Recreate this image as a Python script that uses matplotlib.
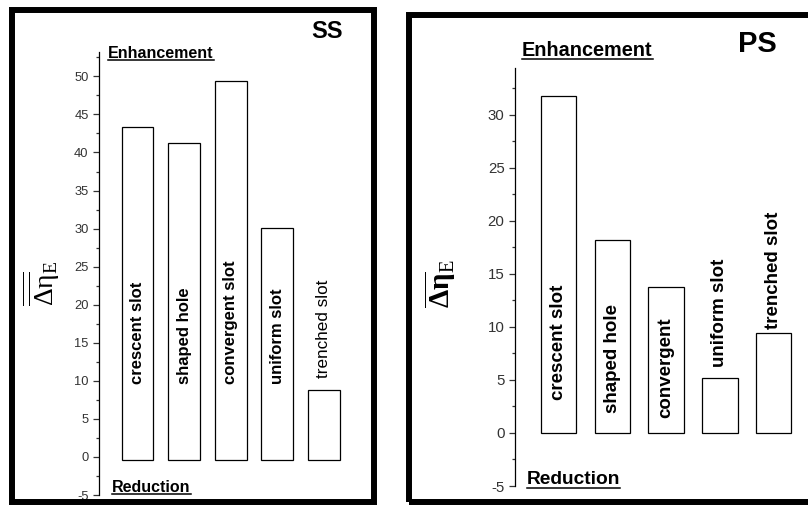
import matplotlib
matplotlib.use('Agg')
import matplotlib.pyplot as plt
from matplotlib.lines import Line2D
from matplotlib.patches import Rectangle
from matplotlib.ticker import MultipleLocator

plt.rcParams['font.family'] = ['Liberation Sans', 'DejaVu Sans']
plt.rcParams['axes.unicode_minus'] = False
plt.rcParams['mathtext.fontset'] = 'custom'
plt.rcParams['mathtext.rm'] = 'Liberation Serif'
plt.rcParams['mathtext.it'] = 'Liberation Serif'
plt.rcParams['mathtext.bf'] = 'Liberation Serif:bold'

# data
ss_labels = ['crescent slot', 'shaped hole', 'convergent slot', 'uniform slot', 'trenched slot']
ss_values = [43.4, 41.3, 49.4, 30.1, 8.8]
ps_labels = ['crescent slot', 'shaped hole', 'convergent', 'uniform slot', 'trenched slot']
ps_values = [31.8, 18.2, 13.8, 5.2, 9.4]

W, H = 808, 505


def fx(x):
    return x / W


def fy(y):
    return 1 - y / H


def make_axes(fig, left, right, top, bottom):
    ax = fig.add_axes([fx(left), fy(bottom), fx(right - left), fy(top) - fy(bottom)])
    for s in ['top', 'right', 'bottom']:
        ax.spines[s].set_visible(False)
    ax.spines['left'].set_linewidth(0.9)
    ax.set_xticks([])
    ax.yaxis.set_major_locator(MultipleLocator(5))
    ax.yaxis.set_minor_locator(MultipleLocator(2.5))
    ax.tick_params(axis='y', which='major', direction='out', length=4, width=0.9, colors='#333333')
    ax.tick_params(axis='y', which='minor', direction='out', length=2.5, width=0.9, colors='#333333')
    ax.patch.set_alpha(0)
    return ax


def underlined(fig, x, y, s, size):
    t = fig.text(fx(x), fy(y), s, fontsize=size, fontweight='bold', ha='left', va='center')
    fig.canvas.draw()
    bb = t.get_window_extent()
    yl = bb.y0 + 0.5
    fig.add_artist(Line2D([bb.x0 / W, bb.x1 / W], [yl / H, yl / H], color='black', lw=1.1))
    return t


fig = plt.figure(figsize=(W / 100, H / 100), dpi=100)

# outer frames
fig.add_artist(Rectangle((fx(12), fy(502)), fx(373.7 - 12), fy(10) - fy(502),
                         fill=False, lw=4.3, ec='black', transform=fig.transFigure))
fig.add_artist(Rectangle((fx(409), fy(502)), fx(820 - 409), fy(14.7) - fy(502),
                         fill=False, lw=4.3, ec='black', transform=fig.transFigure))

# ---- SS panel
ax1 = make_axes(fig, 99, 370, 52, 495)
ax1.set_ylim(-5, 53.2)
ax1.set_xlim(-0.826, 4.99)
ax1.bar(range(len(ss_values)), [v + 0.4 for v in ss_values], bottom=-0.4, width=0.68,
        color='white', edgecolor='black', lw=0.9)
ax1.tick_params(axis='y', labelsize=9.3)
for i, lab in enumerate(ss_labels):
    if i < 4:
        ax1.text(i, 9.6, lab, rotation=90, ha='center', va='bottom', fontsize=12, fontweight='bold')
    else:
        ax1.text(i, 10.4, lab, rotation=90, ha='center', va='bottom', fontsize=12.3)

fig.text(fx(41), fy(283), r'$\overline{\overline{\mathrm{\Delta\eta}}}_{\mathrm{E}}$', rotation=90,
         ha='center', va='center', fontsize=20)
fig.text(fx(327), fy(31), 'SS', fontsize=17, fontweight='bold', ha='center', va='center')
underlined(fig, 108, 53, 'Enhancement', 11.5)
underlined(fig, 112, 487, 'Reduction', 11.5)

# ---- PS panel
ax2 = make_axes(fig, 515, 800, 68, 486)
ax2.set_ylim(-5, 34.4)
ax2.set_xlim(-0.81, 4.49)
ax2.bar(range(len(ps_values)), ps_values, width=0.66,
        color='white', edgecolor='black', lw=0.9)
ax2.tick_params(axis='y', labelsize=10.8)
ps_text_y = [3.1, 1.9, 1.4, 6.2, 9.8]
for i, lab in enumerate(ps_labels):
    ax2.text(i, ps_text_y[i], lab, rotation=90, ha='center', va='bottom', fontsize=13.5,
             fontweight='bold')

fig.text(fx(440), fy(284), r'$\overline{\mathbf{\Delta\eta}}_{\mathrm{E}}$', rotation=90,
         ha='center', va='center', fontsize=21)
fig.text(fx(757), fy(44), 'PS', fontsize=21, fontweight='bold', ha='center', va='center')
underlined(fig, 522, 50, 'Enhancement', 14.3)
underlined(fig, 527, 480, 'Reduction', 13.8)

fig.savefig('out.png', dpi=100)
